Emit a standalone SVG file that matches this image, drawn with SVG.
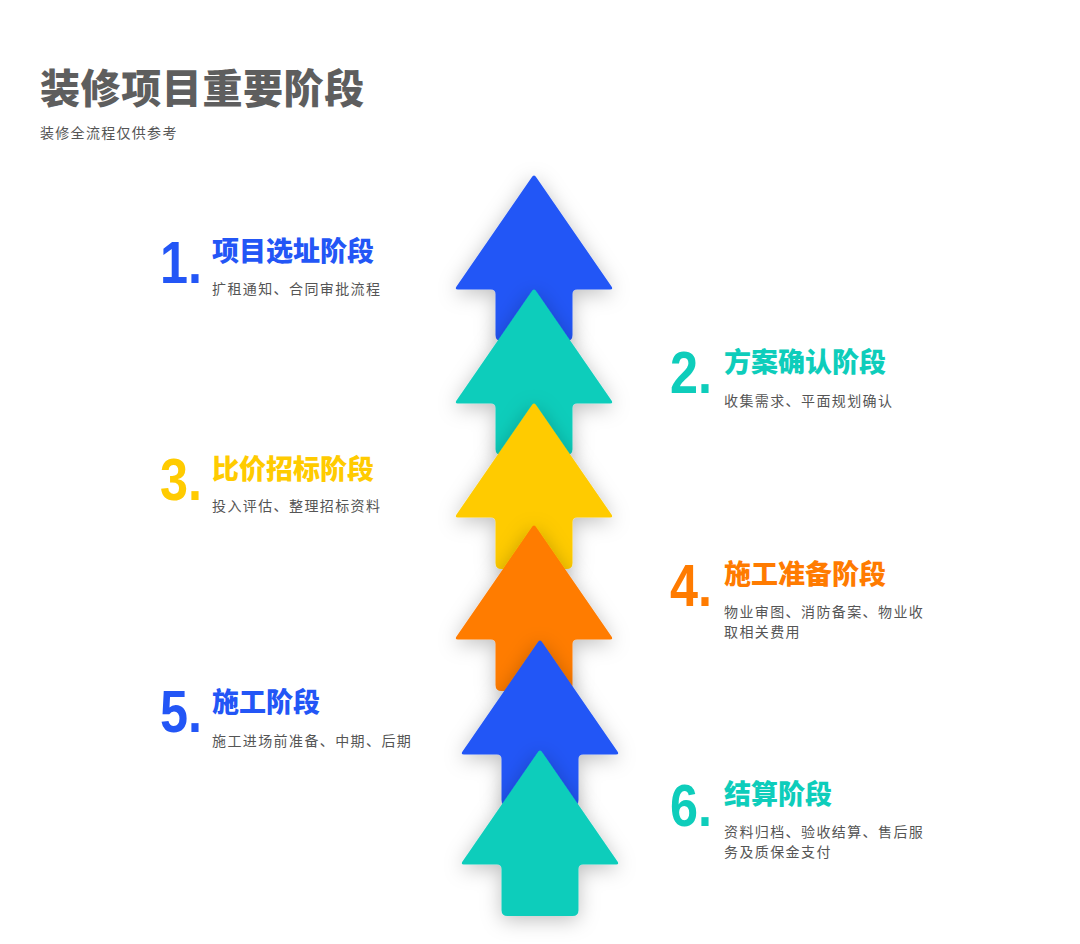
<svg xmlns="http://www.w3.org/2000/svg" xmlns:xlink="http://www.w3.org/1999/xlink" width="1080" height="944" viewBox="0 0 1080 944">
  <style>
    .title{font-family:"Noto Sans CJK SC","Noto Sans",sans-serif;font-weight:900;font-size:40px;fill:#5e5e5e;letter-spacing:0.6px}
    .sub{font-family:"Noto Sans CJK SC","Noto Sans",sans-serif;font-size:14px;fill:#555;letter-spacing:1.3px}
    .num{font-family:"Liberation Sans","Arial",sans-serif;font-weight:bold;font-size:60px}
    .st{font-family:"Noto Sans CJK SC","Noto Sans",sans-serif;font-weight:900;font-size:27px}
    .desc{font-family:"Noto Sans CJK SC","Noto Sans",sans-serif;font-size:14px;fill:#555;letter-spacing:1.4px}
    .blue{fill:#2356F6}.teal{fill:#0ECDBB}.yellow{fill:#FFCB00}.orange{fill:#FF7B00}
  </style>
  <defs>
    <filter id="sh" x="-50%" y="-40%" width="200%" height="180%">
      <feDropShadow dx="0" dy="4" stdDeviation="10" flood-color="#000" flood-opacity="0.25"/>
    </filter>
    <path id="arrow" d="M -2.4,3.5 Q 0,-0.5 2.4,3.5 L 77.5,112.5 Q 79.5,115.5 76,115.5 L 43,115.5 Q 38.5,115.5 38.5,120 L 38.5,161 Q 38.5,167 32.5,167 L -32.5,167 Q -38.5,167 -38.5,161 L -38.5,120 Q -38.5,115.5 -43,115.5 L -76,115.5 Q -79.5,115.5 -77.5,112.5 Z"/>
  </defs>
  <rect width="1080" height="944" fill="#fff"/>

  <g id="header">
    <text class="title" x="40" y="103">装修项目重要阶段</text>
    <text class="sub" x="40" y="138">装修全流程仅供参考</text>
  </g>

  <g id="arrows">
    <use xlink:href="#arrow" transform="translate(534,174)" class="blue" filter="url(#sh)"/>
    <use xlink:href="#arrow" transform="translate(534,288)" class="teal" filter="url(#sh)"/>
    <use xlink:href="#arrow" transform="translate(534,402)" class="yellow" filter="url(#sh)"/>
    <use xlink:href="#arrow" transform="translate(534,524)" class="orange" filter="url(#sh)"/>
    <use xlink:href="#arrow" transform="translate(540,639)" class="blue" filter="url(#sh)"/>
    <use xlink:href="#arrow" transform="translate(540,749)" class="teal" filter="url(#sh)"/>
  </g>

  <g id="step1">
    <text class="num blue" x="160" y="283" textLength="42" lengthAdjust="spacingAndGlyphs">1.</text>
    <text class="st blue" x="212" y="261">项目选址阶段</text>
    <text class="desc" x="212" y="294">扩租通知、合同审批流程</text>
  </g>
  <g id="step2">
    <text class="num teal" x="670" y="393" textLength="42" lengthAdjust="spacingAndGlyphs">2.</text>
    <text class="st teal" x="724" y="372">方案确认阶段</text>
    <text class="desc" x="724" y="406">收集需求、平面规划确认</text>
  </g>
  <g id="step3">
    <text class="num yellow" x="160" y="500" textLength="42" lengthAdjust="spacingAndGlyphs">3.</text>
    <text class="st yellow" x="212" y="479">比价招标阶段</text>
    <text class="desc" x="212" y="511">投入评估、整理招标资料</text>
  </g>
  <g id="step4">
    <text class="num orange" x="670" y="606" textLength="42" lengthAdjust="spacingAndGlyphs">4.</text>
    <text class="st orange" x="724" y="584">施工准备阶段</text>
    <text class="desc" x="724" y="617">物业审图、消防备案、物业收</text>
    <text class="desc" x="724" y="637">取相关费用</text>
  </g>
  <g id="step5">
    <text class="num blue" x="160" y="732" textLength="42" lengthAdjust="spacingAndGlyphs">5.</text>
    <text class="st blue" x="212" y="712">施工阶段</text>
    <text class="desc" x="212" y="746">施工进场前准备、中期、后期</text>
  </g>
  <g id="step6">
    <text class="num teal" x="670" y="826" textLength="42" lengthAdjust="spacingAndGlyphs">6.</text>
    <text class="st teal" x="724" y="804">结算阶段</text>
    <text class="desc" x="724" y="837">资料归档、验收结算、售后服</text>
    <text class="desc" x="724" y="857">务及质保金支付</text>
  </g>
</svg>
